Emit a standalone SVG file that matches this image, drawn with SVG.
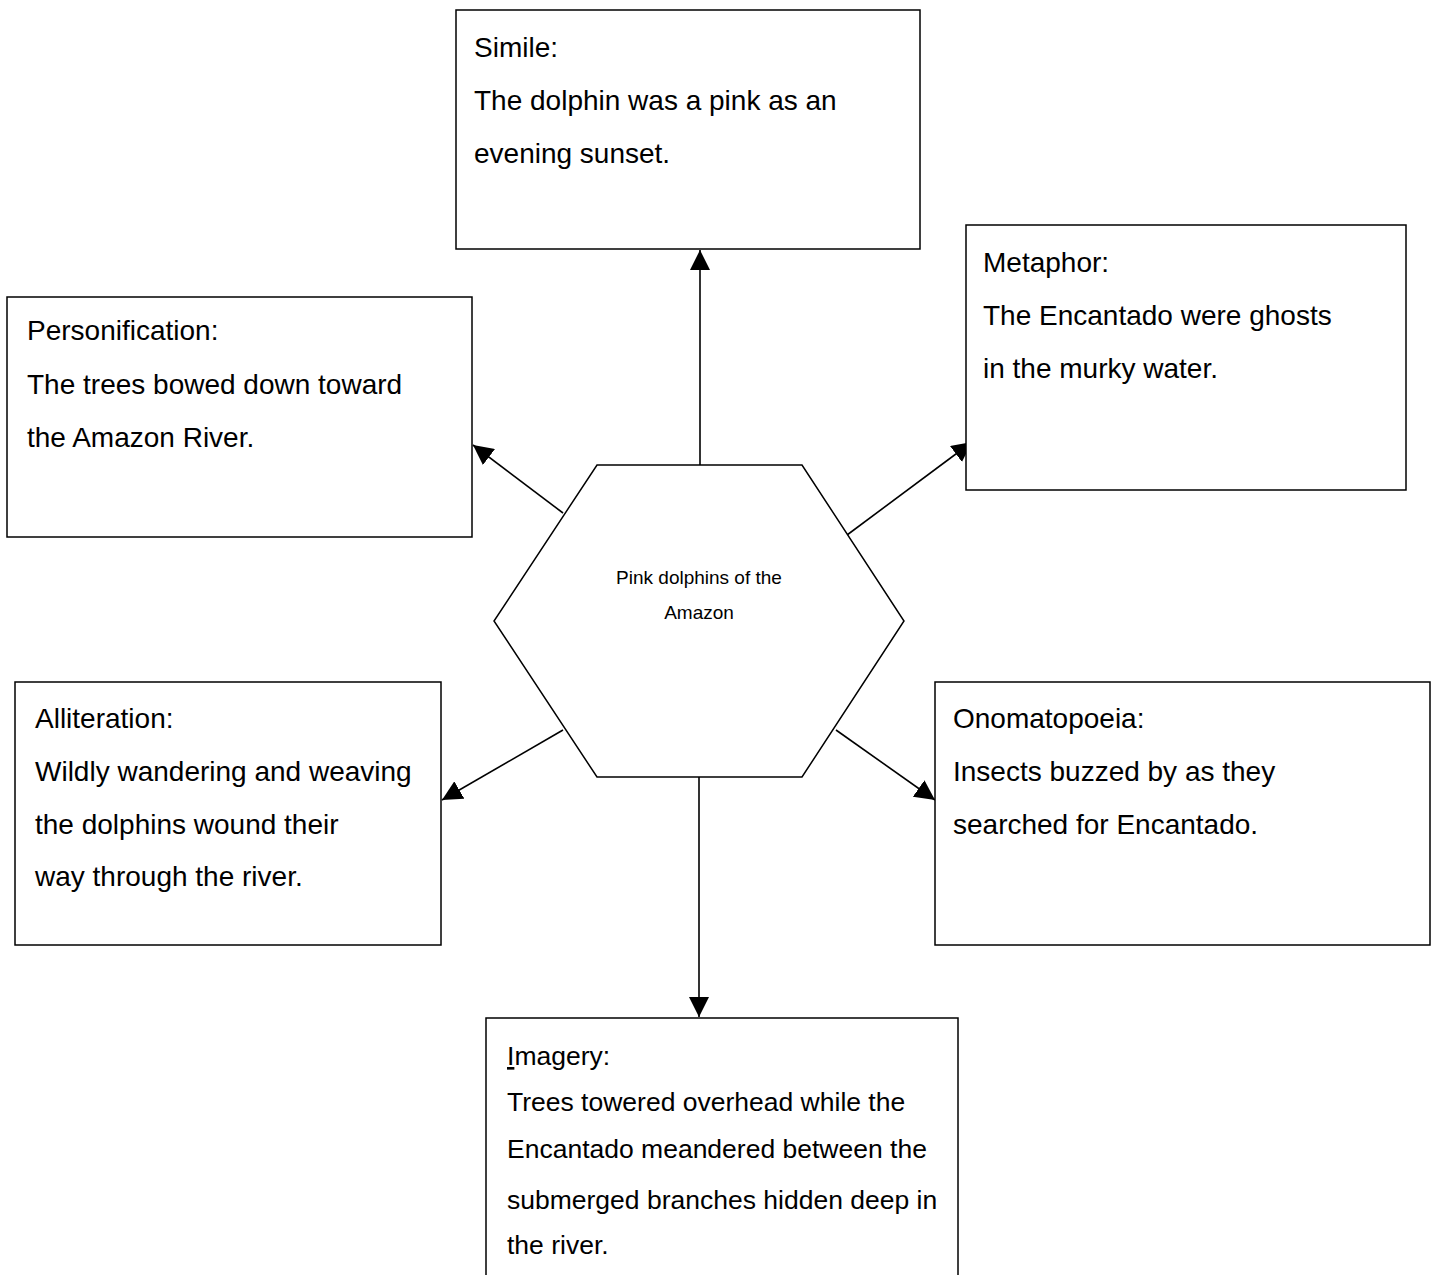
<svg xmlns="http://www.w3.org/2000/svg" width="1434" height="1275" viewBox="0 0 1434 1275">
<style>
.box{fill:#fff;stroke:#000;stroke-width:1.5}
.t{font-family:"Liberation Sans",Arial,sans-serif;font-size:28px;fill:#000}
.s{font-size:26.5px}
.c{font-family:"Liberation Sans",Arial,sans-serif;font-size:19px;fill:#000;text-anchor:middle}
.ln{stroke:#000;stroke-width:1.6;fill:none}
</style>
<defs>
<marker id="ah" viewBox="0 0 10 10" refX="10" refY="5" markerWidth="20" markerHeight="20" markerUnits="userSpaceOnUse" orient="auto">
<path d="M0,0 L10,5 L0,10 Z" fill="#000"/>
</marker>
</defs>
<rect width="1434" height="1275" fill="#fff"/>
<g id="connectors">
<line class="ln" x1="700" y1="465" x2="700" y2="250" marker-end="url(#ah)"/>
<line class="ln" x1="699" y1="777" x2="699" y2="1017" marker-end="url(#ah)"/>
<line class="ln" x1="563" y1="513" x2="473" y2="445" marker-end="url(#ah)"/>
<line class="ln" x1="843" y1="538" x2="972" y2="442" marker-end="url(#ah)"/>
<line class="ln" x1="563" y1="730" x2="442" y2="800" marker-end="url(#ah)"/>
<line class="ln" x1="836" y1="730" x2="935" y2="800" marker-end="url(#ah)"/>
</g>
<g id="center">
<polygon class="box" points="597,465 802,465 904,621 802,777 597,777 494,621"/>
<text class="c" x="699" y="584">Pink dolphins of the</text>
<text class="c" x="699" y="619">Amazon</text>
</g>
<g id="simile">
<rect class="box" x="456" y="10" width="464" height="239"/>
<text class="t" x="474" y="57">Simile:</text>
<text class="t" x="474" y="110">The dolphin was a pink as an</text>
<text class="t" x="474" y="163">evening sunset.</text>
</g>
<g id="metaphor">
<rect class="box" x="966" y="225" width="440" height="265"/>
<text class="t" x="983" y="272">Metaphor:</text>
<text class="t" x="983" y="325">The Encantado were ghosts</text>
<text class="t" x="983" y="378">in the murky water.</text>
</g>
<g id="personification">
<rect class="box" x="7" y="297" width="465" height="240"/>
<text class="t" x="27" y="340">Personification:</text>
<text class="t" x="27" y="394">The trees bowed down toward</text>
<text class="t" x="27" y="447">the Amazon River.</text>
</g>
<g id="alliteration">
<rect class="box" x="15" y="682" width="426" height="263"/>
<text class="t" x="35" y="728">Alliteration:</text>
<text class="t" x="35" y="781">Wildly wandering and weaving</text>
<text class="t" x="35" y="834">the dolphins wound their</text>
<text class="t" x="35" y="886">way through the river.</text>
</g>
<g id="onomatopoeia">
<rect class="box" x="935" y="682" width="495" height="263"/>
<text class="t" x="953" y="728">Onomatopoeia:</text>
<text class="t" x="953" y="781">Insects buzzed by as they</text>
<text class="t" x="953" y="834">searched for Encantado.</text>
</g>
<g id="imagery">
<rect class="box" x="486" y="1018" width="472" height="270"/>
<text class="t s" x="507" y="1065"><tspan text-decoration="underline">I</tspan>magery:</text>
<text class="t s" x="507" y="1111">Trees towered overhead while the</text>
<text class="t s" x="507" y="1158">Encantado meandered between the</text>
<text class="t s" x="507" y="1209">submerged branches hidden deep in</text>
<text class="t s" x="507" y="1254">the river.</text>
</g>
</svg>
